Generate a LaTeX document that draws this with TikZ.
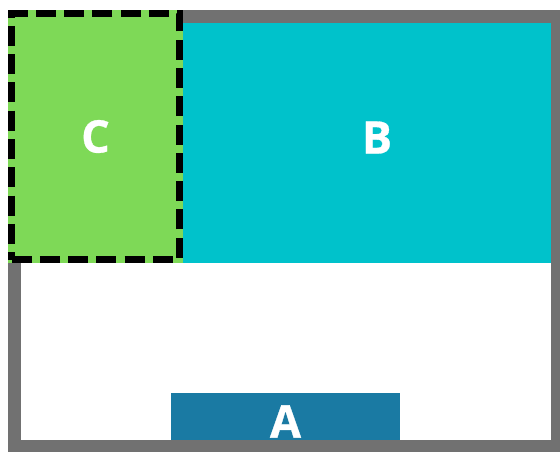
\documentclass[tikz,border=0pt]{standalone}
\usepackage{fontspec}
\newfontfamily\boxfont[BoldFeatures={FakeBold=0.7}]{Open Sans}
\definecolor{framegray}{HTML}{717171}
\definecolor{boxblue}{HTML}{1A7AA3}
\definecolor{boxcyan}{HTML}{00C2CB}
\definecolor{boxgreen}{HTML}{7ED957}
\begin{document}
\begin{tikzpicture}[x=1pt,y=-1pt,
    region/.style={rectangle,inner sep=0pt,text=white,
      font=\boxfont\bfseries\fontsize{45}{45}\selectfont},
    dashbox/.style={region,draw=black,line width=7pt,
      preaction={draw=boxgreen,solid},
      dash pattern=on 20pt off 8.3pt}]
  \useasboundingbox[fill=white] (0,0) rectangle (560,451);
  \clip (0,0) rectangle (560,451);
  \draw
    (285.5,421.5) node[region,fill=boxblue,minimum width=229pt,minimum height=57pt] (A){A}
    (377,137.5) node[region,fill=boxcyan,minimum width=388pt,minimum height=251pt] (B){B};
  % frame round the whole area
  \draw[framegray,line width=13pt] (14.5,16.5) rectangle (557.5,446.5);
  \draw
    (95.5,136.5) node[dashbox,fill=boxgreen,minimum width=168pt,minimum height=246pt] (C){C};
\end{tikzpicture}
\end{document}
